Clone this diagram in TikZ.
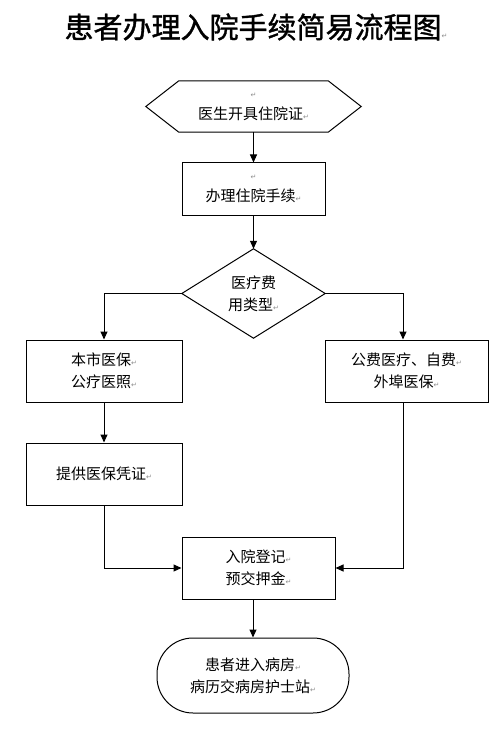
\documentclass[tikz,border=0pt]{standalone}
\usepackage{fontspec}
\newfontfamily\cjk{Noto Sans CJK SC}
\newfontfamily\cjkt[FakeBold=1.2]{Noto Sans CJK SC}
\newfontfamily\dejavu{DejaVu Sans}
\usetikzlibrary{arrows.meta}
\newcommand{\pmk}{{\dejavu\fontsize{7}{7}\selectfont\textcolor{black!45}{↵}}}
\tikzset{
  box/.style={draw, line width=1pt, rectangle, align=center, inner sep=0pt,
    font=\cjk\fontsize{15}{22}\selectfont},
  ghost/.style={rectangle, align=center, inner sep=0pt,
    font=\cjk\fontsize{15}{22}\selectfont},
  conn/.style={line width=1pt, -{Triangle[length=8pt,width=7pt]}},
  outline/.style={line width=1pt}
}
\begin{document}
\begin{tikzpicture}[x=1pt,y=-1pt]
\useasboundingbox (0,0) rectangle (500,730);
% title
\node[inner sep=0pt, font=\cjkt\fontsize{29}{30}\selectfont] (title) at (256,27) {患者办理入院手续简易流程图\pmk};
% hexagon start
\node[ghost, minimum width=215pt, minimum height=51pt] (hex) at (253.5,106.5) {\pmk\\医生开具住院证\pmk};
\draw[outline] (hex.west) -- ([xshift=33pt]hex.north west) -- ([xshift=-33pt]hex.north east) -- (hex.east) -- ([xshift=-33pt]hex.south east) -- ([xshift=33pt]hex.south west) -- cycle;
% box 1
\node[box, minimum width=143pt, minimum height=52pt] (b1) at (253.5,189) {\pmk\\办理住院手续\pmk};
% diamond
\node[ghost, minimum width=143pt, minimum height=89pt] (dia) at (253.5,293.5) {医疗费\\用类型\pmk};
\draw[outline] (dia.north) -- (dia.east) -- (dia.south) -- (dia.west) -- cycle;
% left / right boxes
\node[box, minimum width=156pt, minimum height=62pt] (bl) at (104,371) {本市医保\pmk\\公疗医照\pmk};
\node[box, minimum width=163pt, minimum height=62pt] (br) at (406.5,371) {公费医疗、自费\pmk\\外埠医保\pmk};
\node[box, minimum width=156pt, minimum height=62pt] (bl2) at (104,474) {提供医保凭证\pmk};
% registration
\node[box, minimum width=153pt, minimum height=62pt] (b3) at (258.5,568) {入院登记\pmk\\预交押金\pmk};
% terminal
\node[box, rounded corners=36pt, minimum width=192pt, minimum height=75pt] (term) at (253,675.5) {患者进入病房\pmk\\病历交病房护士站\pmk};
% connectors
\draw[conn] (hex.south) -- (b1.north);
\draw[conn] (b1.south) -- (dia.north);
\draw[conn] (dia.west) -| (bl.north);
\draw[conn] (dia.east) -| ([xshift=-3.5pt]br.north);
\draw[conn] (bl.south) -- (bl2.north);
\draw[conn] (bl2.south) |- (b3.west);
\draw[conn] ([xshift=-3.5pt]br.south) |- (b3.east);
\draw[conn] (term.north |- b3.south) -- (term.north);
\end{tikzpicture}
\end{document}
